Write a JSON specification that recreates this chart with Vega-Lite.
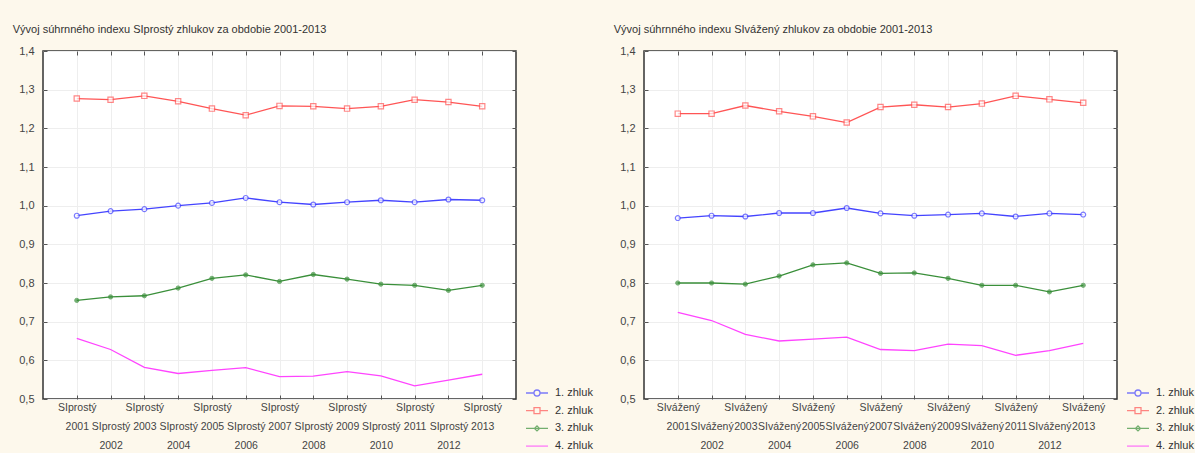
{
  "$schema": "https://vega.github.io/schema/vega-lite/v6.json",
  "background": "#fdf8ec",
  "padding": {"left": 11, "top": 23, "right": 0, "bottom": 0},
  "config": {
    "font": "Liberation Sans",
    "view": {"stroke": "#333333", "strokeWidth": 1.5, "fill": "white"},
    "axis": {"domain": false, "labelFont": "Liberation Sans", "labelFontSize": 11, "labelColor": "#444444", "tickColor": "#555555", "gridColor": "#eeeeee", "gridWidth": 1, "tickSize": -4, "title": null},
    "title": {"font": "Liberation Sans", "fontSize": 11, "fontWeight": "normal", "color": "#333333"}
  },
  "datasets": {
    "d": [
      {"p": "prostý", "c": "1. zhluk", "year": 2001, "v": 0.974},
      {"p": "prostý", "c": "1. zhluk", "year": 2002, "v": 0.986},
      {"p": "prostý", "c": "1. zhluk", "year": 2003, "v": 0.991},
      {"p": "prostý", "c": "1. zhluk", "year": 2004, "v": 1.000},
      {"p": "prostý", "c": "1. zhluk", "year": 2005, "v": 1.007},
      {"p": "prostý", "c": "1. zhluk", "year": 2006, "v": 1.020},
      {"p": "prostý", "c": "1. zhluk", "year": 2007, "v": 1.009},
      {"p": "prostý", "c": "1. zhluk", "year": 2008, "v": 1.003},
      {"p": "prostý", "c": "1. zhluk", "year": 2009, "v": 1.009},
      {"p": "prostý", "c": "1. zhluk", "year": 2010, "v": 1.014},
      {"p": "prostý", "c": "1. zhluk", "year": 2011, "v": 1.009},
      {"p": "prostý", "c": "1. zhluk", "year": 2012, "v": 1.016},
      {"p": "prostý", "c": "1. zhluk", "year": 2013, "v": 1.014},
      {"p": "prostý", "c": "2. zhluk", "year": 2001, "v": 1.277},
      {"p": "prostý", "c": "2. zhluk", "year": 2002, "v": 1.274},
      {"p": "prostý", "c": "2. zhluk", "year": 2003, "v": 1.284},
      {"p": "prostý", "c": "2. zhluk", "year": 2004, "v": 1.270},
      {"p": "prostý", "c": "2. zhluk", "year": 2005, "v": 1.251},
      {"p": "prostý", "c": "2. zhluk", "year": 2006, "v": 1.234},
      {"p": "prostý", "c": "2. zhluk", "year": 2007, "v": 1.258},
      {"p": "prostý", "c": "2. zhluk", "year": 2008, "v": 1.257},
      {"p": "prostý", "c": "2. zhluk", "year": 2009, "v": 1.251},
      {"p": "prostý", "c": "2. zhluk", "year": 2010, "v": 1.257},
      {"p": "prostý", "c": "2. zhluk", "year": 2011, "v": 1.274},
      {"p": "prostý", "c": "2. zhluk", "year": 2012, "v": 1.268},
      {"p": "prostý", "c": "2. zhluk", "year": 2013, "v": 1.257},
      {"p": "prostý", "c": "3. zhluk", "year": 2001, "v": 0.755},
      {"p": "prostý", "c": "3. zhluk", "year": 2002, "v": 0.764},
      {"p": "prostý", "c": "3. zhluk", "year": 2003, "v": 0.767},
      {"p": "prostý", "c": "3. zhluk", "year": 2004, "v": 0.787},
      {"p": "prostý", "c": "3. zhluk", "year": 2005, "v": 0.812},
      {"p": "prostý", "c": "3. zhluk", "year": 2006, "v": 0.821},
      {"p": "prostý", "c": "3. zhluk", "year": 2007, "v": 0.804},
      {"p": "prostý", "c": "3. zhluk", "year": 2008, "v": 0.822},
      {"p": "prostý", "c": "3. zhluk", "year": 2009, "v": 0.810},
      {"p": "prostý", "c": "3. zhluk", "year": 2010, "v": 0.797},
      {"p": "prostý", "c": "3. zhluk", "year": 2011, "v": 0.794},
      {"p": "prostý", "c": "3. zhluk", "year": 2012, "v": 0.781},
      {"p": "prostý", "c": "3. zhluk", "year": 2013, "v": 0.794},
      {"p": "prostý", "c": "4. zhluk", "year": 2001, "v": 0.657},
      {"p": "prostý", "c": "4. zhluk", "year": 2002, "v": 0.628},
      {"p": "prostý", "c": "4. zhluk", "year": 2003, "v": 0.582},
      {"p": "prostý", "c": "4. zhluk", "year": 2004, "v": 0.566},
      {"p": "prostý", "c": "4. zhluk", "year": 2005, "v": 0.574},
      {"p": "prostý", "c": "4. zhluk", "year": 2006, "v": 0.581},
      {"p": "prostý", "c": "4. zhluk", "year": 2007, "v": 0.558},
      {"p": "prostý", "c": "4. zhluk", "year": 2008, "v": 0.559},
      {"p": "prostý", "c": "4. zhluk", "year": 2009, "v": 0.571},
      {"p": "prostý", "c": "4. zhluk", "year": 2010, "v": 0.560},
      {"p": "prostý", "c": "4. zhluk", "year": 2011, "v": 0.534},
      {"p": "prostý", "c": "4. zhluk", "year": 2012, "v": 0.549},
      {"p": "prostý", "c": "4. zhluk", "year": 2013, "v": 0.564},
      {"p": "vážený", "c": "1. zhluk", "year": 2001, "v": 0.968},
      {"p": "vážený", "c": "1. zhluk", "year": 2002, "v": 0.974},
      {"p": "vážený", "c": "1. zhluk", "year": 2003, "v": 0.972},
      {"p": "vážený", "c": "1. zhluk", "year": 2004, "v": 0.981},
      {"p": "vážený", "c": "1. zhluk", "year": 2005, "v": 0.981},
      {"p": "vážený", "c": "1. zhluk", "year": 2006, "v": 0.994},
      {"p": "vážený", "c": "1. zhluk", "year": 2007, "v": 0.980},
      {"p": "vážený", "c": "1. zhluk", "year": 2008, "v": 0.974},
      {"p": "vážený", "c": "1. zhluk", "year": 2009, "v": 0.977},
      {"p": "vážený", "c": "1. zhluk", "year": 2010, "v": 0.980},
      {"p": "vážený", "c": "1. zhluk", "year": 2011, "v": 0.972},
      {"p": "vážený", "c": "1. zhluk", "year": 2012, "v": 0.980},
      {"p": "vážený", "c": "1. zhluk", "year": 2013, "v": 0.977},
      {"p": "vážený", "c": "2. zhluk", "year": 2001, "v": 1.238},
      {"p": "vážený", "c": "2. zhluk", "year": 2002, "v": 1.238},
      {"p": "vážený", "c": "2. zhluk", "year": 2003, "v": 1.259},
      {"p": "vážený", "c": "2. zhluk", "year": 2004, "v": 1.244},
      {"p": "vážený", "c": "2. zhluk", "year": 2005, "v": 1.231},
      {"p": "vážený", "c": "2. zhluk", "year": 2006, "v": 1.215},
      {"p": "vážený", "c": "2. zhluk", "year": 2007, "v": 1.255},
      {"p": "vážený", "c": "2. zhluk", "year": 2008, "v": 1.261},
      {"p": "vážený", "c": "2. zhluk", "year": 2009, "v": 1.255},
      {"p": "vážený", "c": "2. zhluk", "year": 2010, "v": 1.264},
      {"p": "vážený", "c": "2. zhluk", "year": 2011, "v": 1.284},
      {"p": "vážený", "c": "2. zhluk", "year": 2012, "v": 1.275},
      {"p": "vážený", "c": "2. zhluk", "year": 2013, "v": 1.266},
      {"p": "vážený", "c": "3. zhluk", "year": 2001, "v": 0.800},
      {"p": "vážený", "c": "3. zhluk", "year": 2002, "v": 0.800},
      {"p": "vážený", "c": "3. zhluk", "year": 2003, "v": 0.797},
      {"p": "vážený", "c": "3. zhluk", "year": 2004, "v": 0.818},
      {"p": "vážený", "c": "3. zhluk", "year": 2005, "v": 0.847},
      {"p": "vážený", "c": "3. zhluk", "year": 2006, "v": 0.852},
      {"p": "vážený", "c": "3. zhluk", "year": 2007, "v": 0.825},
      {"p": "vážený", "c": "3. zhluk", "year": 2008, "v": 0.826},
      {"p": "vážený", "c": "3. zhluk", "year": 2009, "v": 0.812},
      {"p": "vážený", "c": "3. zhluk", "year": 2010, "v": 0.794},
      {"p": "vážený", "c": "3. zhluk", "year": 2011, "v": 0.794},
      {"p": "vážený", "c": "3. zhluk", "year": 2012, "v": 0.777},
      {"p": "vážený", "c": "3. zhluk", "year": 2013, "v": 0.794},
      {"p": "vážený", "c": "4. zhluk", "year": 2001, "v": 0.724},
      {"p": "vážený", "c": "4. zhluk", "year": 2002, "v": 0.703},
      {"p": "vážený", "c": "4. zhluk", "year": 2003, "v": 0.667},
      {"p": "vážený", "c": "4. zhluk", "year": 2004, "v": 0.650},
      {"p": "vážený", "c": "4. zhluk", "year": 2005, "v": 0.655},
      {"p": "vážený", "c": "4. zhluk", "year": 2006, "v": 0.660},
      {"p": "vážený", "c": "4. zhluk", "year": 2007, "v": 0.628},
      {"p": "vážený", "c": "4. zhluk", "year": 2008, "v": 0.625},
      {"p": "vážený", "c": "4. zhluk", "year": 2009, "v": 0.642},
      {"p": "vážený", "c": "4. zhluk", "year": 2010, "v": 0.638},
      {"p": "vážený", "c": "4. zhluk", "year": 2011, "v": 0.613},
      {"p": "vážený", "c": "4. zhluk", "year": 2012, "v": 0.625},
      {"p": "vážený", "c": "4. zhluk", "year": 2013, "v": 0.644}
    ]
  },
  "spacing": 18,
  "resolve": {
    "scale": {"x": "independent", "y": "independent", "color": "independent", "shape": "independent"},
    "axis": {"x": "independent", "y": "independent"}
  },
  "hconcat": [
    {
      "width": 473,
      "height": 348,
      "title": {"text": "Vývoj súhrnného indexu SIprostý zhlukov za obdobie 2001-2013", "anchor": "start", "frame": "bounds", "dx": -6, "offset": 10},
      "data": {"name": "d"},
      "transform": [{"filter": "datum.p == 'prostý'"}],
      "layer": [
        {
          "transform": [{"filter": "datum.c == '1. zhluk'"}],
          "mark": {"type": "line", "strokeWidth": 1.3, "stroke": "#4444ff"},
          "encoding": {
            "x": {"field": "year", "type": "quantitative", "scale": {"domain": [2000, 2014], "nice": false, "zero": false},
              "axis": {"orient": "bottom", "values": [2001, 2002, 2003, 2004, 2005, 2006, 2007, 2008, 2009, 2010, 2011, 2012, 2013], "grid": true, "labelOverlap": false, "labelBound": false, "labelFlush": false, "labelFontSize": 10.5, "labelLineHeight": 19, "labelBaseline": "top", "labelPadding": 7,
                "labelExpr": "datum.value % 2 == 1 ? ['SIprostý', '' + datum.value] : ['', 'SIprostý', '' + datum.value]"}},
            "y": {"field": "v", "type": "quantitative", "scale": {"domain": [0.5, 1.4], "nice": false, "zero": false},
              "axis": {"orient": "left", "values": [0.5, 0.6, 0.7, 0.8, 0.9, 1.0, 1.1, 1.2, 1.3, 1.4], "grid": true, "labelPadding": 13, "labelExpr": "replace(format(datum.value, '.1f'), '.', ',')"}}
          }
        },
        {
          "transform": [{"filter": "datum.c == '2. zhluk'"}],
          "mark": {"type": "line", "strokeWidth": 1.3, "stroke": "#ff5555"},
          "encoding": {"x": {"field": "year", "type": "quantitative", "axis": null}, "y": {"field": "v", "type": "quantitative", "axis": null}}
        },
        {
          "transform": [{"filter": "datum.c == '3. zhluk'"}],
          "mark": {"type": "line", "strokeWidth": 1.3, "stroke": "#3a8f3a"},
          "encoding": {"x": {"field": "year", "type": "quantitative", "axis": null}, "y": {"field": "v", "type": "quantitative", "axis": null}}
        },
        {
          "transform": [{"filter": "datum.c == '4. zhluk'"}],
          "mark": {"type": "line", "strokeWidth": 1.3, "stroke": "#ff44ff"},
          "encoding": {"x": {"field": "year", "type": "quantitative", "axis": null}, "y": {"field": "v", "type": "quantitative", "axis": null}}
        },
        {
          "transform": [{"filter": "datum.c == '1. zhluk'"}],
          "mark": {"type": "point", "shape": "circle", "filled": true, "fill": "white", "stroke": "#4444ff", "strokeWidth": 1.2, "size": 24},
          "encoding": {
            "x": {"field": "year", "type": "quantitative", "axis": {"orient": "top", "values": [2001, 2002, 2003, 2004, 2005, 2006, 2007, 2008, 2009, 2010, 2011, 2012, 2013], "labels": false, "grid": false}},
            "y": {"field": "v", "type": "quantitative", "axis": {"orient": "right", "values": [0.5, 0.6, 0.7, 0.8, 0.9, 1.0, 1.1, 1.2, 1.3, 1.4], "labels": false, "grid": false}}
          }
        },
        {
          "transform": [{"filter": "datum.c == '2. zhluk'"}],
          "mark": {"type": "point", "shape": "square", "filled": true, "fill": "white", "stroke": "#ff5555", "strokeWidth": 1.2, "size": 28},
          "encoding": {"x": {"field": "year", "type": "quantitative", "axis": null}, "y": {"field": "v", "type": "quantitative", "axis": null}}
        },
        {
          "transform": [{"filter": "datum.c == '3. zhluk'"}],
          "mark": {"type": "point", "shape": "circle", "filled": true, "fill": "#3a8f3a", "stroke": "#3a8f3a", "strokeWidth": 1, "size": 18},
          "encoding": {"x": {"field": "year", "type": "quantitative", "axis": null}, "y": {"field": "v", "type": "quantitative", "axis": null}}
        },
        {
          "transform": [{"filter": "false"}],
          "mark": {"type": "point", "filled": false, "strokeWidth": 1.3},
          "encoding": {
            "x": {"field": "year", "type": "quantitative", "axis": null},
            "y": {"field": "v", "type": "quantitative", "axis": null},
            "color": {"field": "c", "type": "nominal",
              "scale": {"domain": ["1. zhluk", "2. zhluk", "3. zhluk", "4. zhluk"], "range": ["#4444ff", "#ff5555", "#3a8f3a", "#ff44ff"]},
              "legend": {"title": null, "orient": "none", "legendX": 488, "legendY": 336, "symbolSize": 100, "symbolStrokeWidth": 1.3, "labelOffset": 12, "labelFontSize": 11, "labelColor": "#333333", "rowPadding": 5.7, "padding": 0}},
            "shape": {"field": "c", "type": "nominal",
              "scale": {"domain": ["1. zhluk", "2. zhluk", "3. zhluk", "4. zhluk"], "range": ["M-2.2,0H-0.6M0.6,0H2.2M-0.6,0A0.6,0.6,0,1,0,0.6,0A0.6,0.6,0,1,0,-0.6,0", "M-2.2,0H-0.6M0.6,0H2.2M-0.6,-0.6H0.6V0.6H-0.6Z", "M-2.2,0H2.2M-0.5,0L0,-0.5L0.5,0L0,0.5Z", "M-2.2,0H2.2"]},
              "legend": {"title": null, "orient": "none", "legendX": 488, "legendY": 336, "symbolSize": 100, "symbolStrokeWidth": 1.3, "labelOffset": 12, "labelFontSize": 11, "labelColor": "#333333", "rowPadding": 5.7, "padding": 0}}
          }
        }
      ],
      "resolve": {"axis": {"x": "independent", "y": "independent"}}
    },
    {
      "width": 473,
      "height": 348,
      "title": {"text": "Vývoj súhrnného indexu SIvážený zhlukov za obdobie 2001-2013", "anchor": "start", "frame": "bounds", "dx": -6, "offset": 10},
      "data": {"name": "d"},
      "transform": [{"filter": "datum.p == 'vážený'"}],
      "layer": [
        {
          "transform": [{"filter": "datum.c == '1. zhluk'"}],
          "mark": {"type": "line", "strokeWidth": 1.3, "stroke": "#4444ff"},
          "encoding": {
            "x": {"field": "year", "type": "quantitative", "scale": {"domain": [2000, 2014], "nice": false, "zero": false},
              "axis": {"orient": "bottom", "values": [2001, 2002, 2003, 2004, 2005, 2006, 2007, 2008, 2009, 2010, 2011, 2012, 2013], "grid": true, "labelOverlap": false, "labelBound": false, "labelFlush": false, "labelFontSize": 10.5, "labelLineHeight": 19, "labelBaseline": "top", "labelPadding": 7,
                "labelExpr": "datum.value % 2 == 1 ? ['SIvážený', '' + datum.value] : ['', 'SIvážený', '' + datum.value]"}},
            "y": {"field": "v", "type": "quantitative", "scale": {"domain": [0.5, 1.4], "nice": false, "zero": false},
              "axis": {"orient": "left", "values": [0.5, 0.6, 0.7, 0.8, 0.9, 1.0, 1.1, 1.2, 1.3, 1.4], "grid": true, "labelPadding": 13, "labelExpr": "replace(format(datum.value, '.1f'), '.', ',')"}}
          }
        },
        {
          "transform": [{"filter": "datum.c == '2. zhluk'"}],
          "mark": {"type": "line", "strokeWidth": 1.3, "stroke": "#ff5555"},
          "encoding": {"x": {"field": "year", "type": "quantitative", "axis": null}, "y": {"field": "v", "type": "quantitative", "axis": null}}
        },
        {
          "transform": [{"filter": "datum.c == '3. zhluk'"}],
          "mark": {"type": "line", "strokeWidth": 1.3, "stroke": "#3a8f3a"},
          "encoding": {"x": {"field": "year", "type": "quantitative", "axis": null}, "y": {"field": "v", "type": "quantitative", "axis": null}}
        },
        {
          "transform": [{"filter": "datum.c == '4. zhluk'"}],
          "mark": {"type": "line", "strokeWidth": 1.3, "stroke": "#ff44ff"},
          "encoding": {"x": {"field": "year", "type": "quantitative", "axis": null}, "y": {"field": "v", "type": "quantitative", "axis": null}}
        },
        {
          "transform": [{"filter": "datum.c == '1. zhluk'"}],
          "mark": {"type": "point", "shape": "circle", "filled": true, "fill": "white", "stroke": "#4444ff", "strokeWidth": 1.2, "size": 24},
          "encoding": {
            "x": {"field": "year", "type": "quantitative", "axis": {"orient": "top", "values": [2001, 2002, 2003, 2004, 2005, 2006, 2007, 2008, 2009, 2010, 2011, 2012, 2013], "labels": false, "grid": false}},
            "y": {"field": "v", "type": "quantitative", "axis": {"orient": "right", "values": [0.5, 0.6, 0.7, 0.8, 0.9, 1.0, 1.1, 1.2, 1.3, 1.4], "labels": false, "grid": false}}
          }
        },
        {
          "transform": [{"filter": "datum.c == '2. zhluk'"}],
          "mark": {"type": "point", "shape": "square", "filled": true, "fill": "white", "stroke": "#ff5555", "strokeWidth": 1.2, "size": 28},
          "encoding": {"x": {"field": "year", "type": "quantitative", "axis": null}, "y": {"field": "v", "type": "quantitative", "axis": null}}
        },
        {
          "transform": [{"filter": "datum.c == '3. zhluk'"}],
          "mark": {"type": "point", "shape": "circle", "filled": true, "fill": "#3a8f3a", "stroke": "#3a8f3a", "strokeWidth": 1, "size": 18},
          "encoding": {"x": {"field": "year", "type": "quantitative", "axis": null}, "y": {"field": "v", "type": "quantitative", "axis": null}}
        },
        {
          "transform": [{"filter": "false"}],
          "mark": {"type": "point", "filled": false, "strokeWidth": 1.3},
          "encoding": {
            "x": {"field": "year", "type": "quantitative", "axis": null},
            "y": {"field": "v", "type": "quantitative", "axis": null},
            "color": {"field": "c", "type": "nominal",
              "scale": {"domain": ["1. zhluk", "2. zhluk", "3. zhluk", "4. zhluk"], "range": ["#4444ff", "#ff5555", "#3a8f3a", "#ff44ff"]},
              "legend": {"title": null, "orient": "none", "legendX": 488, "legendY": 336, "symbolSize": 100, "symbolStrokeWidth": 1.3, "labelOffset": 12, "labelFontSize": 11, "labelColor": "#333333", "rowPadding": 5.7, "padding": 0}},
            "shape": {"field": "c", "type": "nominal",
              "scale": {"domain": ["1. zhluk", "2. zhluk", "3. zhluk", "4. zhluk"], "range": ["M-2.2,0H-0.6M0.6,0H2.2M-0.6,0A0.6,0.6,0,1,0,0.6,0A0.6,0.6,0,1,0,-0.6,0", "M-2.2,0H-0.6M0.6,0H2.2M-0.6,-0.6H0.6V0.6H-0.6Z", "M-2.2,0H2.2M-0.5,0L0,-0.5L0.5,0L0,0.5Z", "M-2.2,0H2.2"]},
              "legend": {"title": null, "orient": "none", "legendX": 488, "legendY": 336, "symbolSize": 100, "symbolStrokeWidth": 1.3, "labelOffset": 12, "labelFontSize": 11, "labelColor": "#333333", "rowPadding": 5.7, "padding": 0}}
          }
        }
      ],
      "resolve": {"axis": {"x": "independent", "y": "independent"}}
    }
  ]
}
